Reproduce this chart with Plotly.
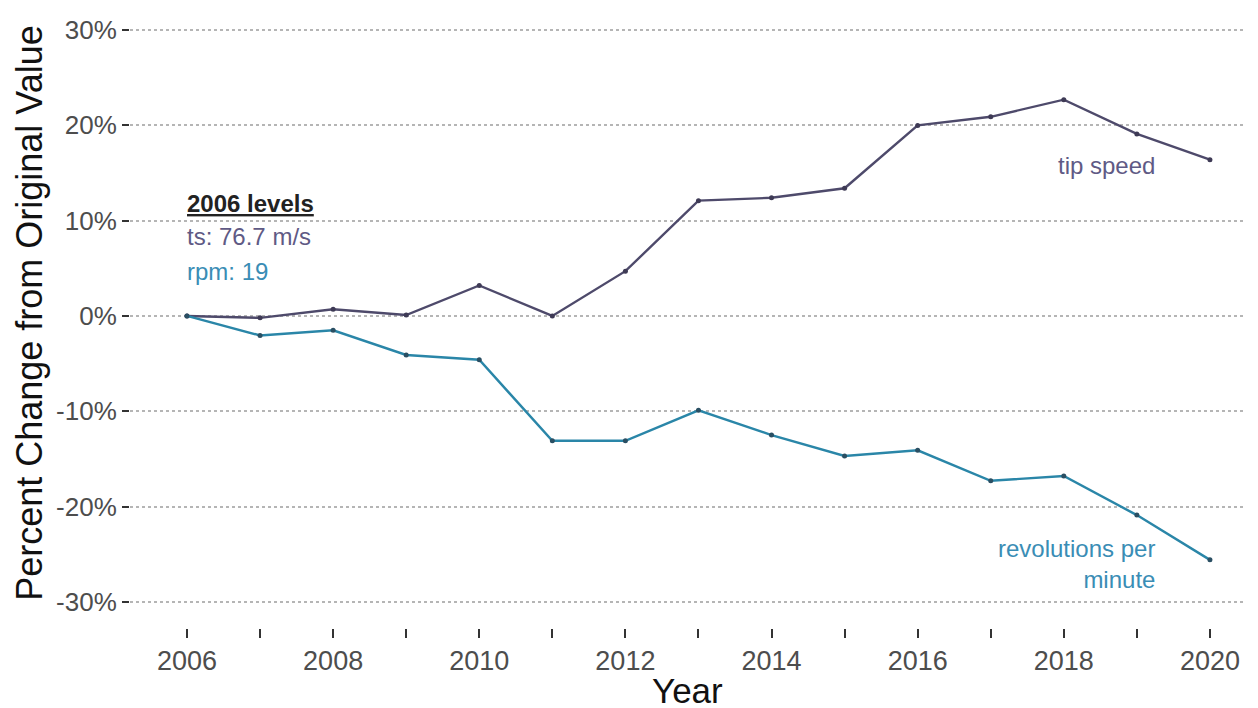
import plotly.graph_objects as go

years = list(range(2006, 2021))
tip_speed = [0.0, -0.2, 0.7, 0.1, 3.2, 0.0, 4.7, 12.1, 12.4, 13.4, 20.0, 20.9, 22.7, 19.1, 16.4]
rpm = [0.0, -2.05, -1.5, -4.1, -4.6, -13.1, -13.1, -9.9, -12.5, -14.7, -14.1, -17.3, -16.8, -20.9, -25.6]
y_ticks = [-30, -20, -10, 0, 10, 20, 30]
y_labels = ["-30%", "-20%", "-10%", "0%", "10%", "20%", "30%"]
x_ticks = list(range(2006, 2021))
x_labels = [str(y) if y % 2 == 0 else "" for y in x_ticks]

TS_LINE = "#4e4a6b"
TS_TEXT = "#5f5a85"
RPM_LINE = "#2a86a8"
RPM_TEXT = "#3a8db5"
FONT = "Liberation Sans, Arial, sans-serif"

fig = go.Figure()
fig.add_trace(go.Scatter(x=years, y=tip_speed, mode="lines+markers",
                         line=dict(color=TS_LINE, width=2.4),
                         marker=dict(size=5, color="#3e3a55"),
                         name="tip speed", showlegend=False))
fig.add_trace(go.Scatter(x=years, y=rpm, mode="lines+markers",
                         line=dict(color=RPM_LINE, width=2.4),
                         marker=dict(size=5, color="#2a4f63"),
                         name="revolutions per minute", showlegend=False))

ann = [
    dict(x=2005.97, y=11.8, text="<b><u>2006 levels</u></b>", color="#222222", xanchor="left"),
    dict(x=2005.97, y=8.3, text="ts: 76.7 m/s", color=TS_TEXT, xanchor="left"),
    dict(x=2005.97, y=4.7, text="rpm: 19", color=RPM_TEXT, xanchor="left"),
    dict(x=2018.59, y=15.8, text="tip speed", color=TS_TEXT, xanchor="center"),
]
annotations = []
for a in ann:
    annotations.append(dict(x=a["x"], y=a["y"], xref="x", yref="y", text=a["text"],
                            showarrow=False, xanchor=a["xanchor"], yanchor="middle",
                            font=dict(family=FONT, size=24, color=a["color"])))
annotations.append(dict(x=2019.27, y=-26.0, xref="x", yref="y",
                        text="revolutions per<br>minute", showarrow=False,
                        xanchor="right", yanchor="middle", align="right",
                        font=dict(family=FONT, size=24, color=RPM_TEXT)))
annotations.append(dict(x=-0.0897, y=0.52, xref="paper", yref="paper",
                        text="Percent Change from Original Value", textangle=-90,
                        showarrow=False, xanchor="center", yanchor="middle",
                        font=dict(family=FONT, size=36, color="#111111")))
annotations.append(dict(x=0.5, y=-0.103, xref="paper", yref="paper",
                        text="Year", showarrow=False, xanchor="center", yanchor="middle",
                        font=dict(family=FONT, size=35, color="#111111")))

# page has an 8px body margin: shift margins accordingly
fig.update_layout(
    width=1258, height=708,
    margin=dict(l=122, r=21, t=7, b=88),
    paper_bgcolor="white", plot_bgcolor="white",
    font=dict(family=FONT),
    annotations=annotations,
    xaxis=dict(range=[2005.22, 2020.48], tickvals=x_ticks, ticktext=x_labels,
               showgrid=False, zeroline=False, showline=False,
               ticks="outside", ticklen=9, tickwidth=2, tickcolor="#333333",
               tickfont=dict(family=FONT, size=27, color="#4d4d4d")),
    yaxis=dict(range=[-32.75, 30.85], tickvals=y_ticks, ticktext=y_labels,
               showgrid=True, gridcolor="#b5b5b5", griddash="dot", gridwidth=2,
               zeroline=False, showline=False,
               ticks="outside", ticklen=7, tickwidth=2, tickcolor="#333333",
               tickfont=dict(family=FONT, size=26, color="#4d4d4d")),
)

fig.write_html("out.html")
